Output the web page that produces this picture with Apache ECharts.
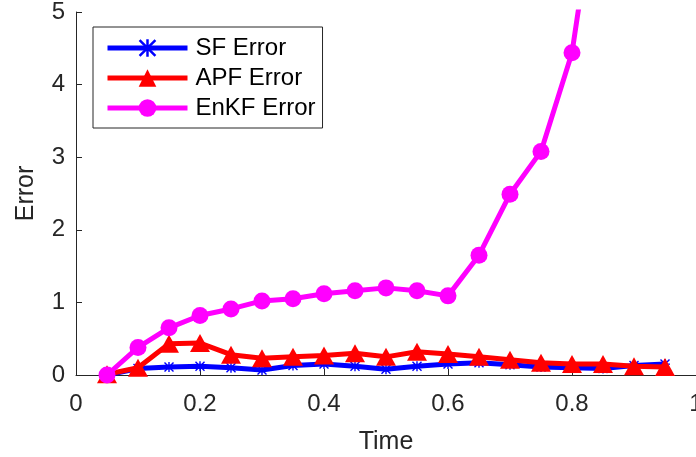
<!DOCTYPE html>
<html>
<head>
<meta charset="utf-8">
<script src="https://cdn.jsdelivr.net/npm/echarts@6/dist/echarts.min.js"></script>
<style>html,body{margin:0;padding:0;background:#fff;}#c{width:696px;height:457px;}</style>
</head>
<body>
<div id="c"></div>
<script>
const times = [0.05,0.10,0.15,0.20,0.25,0.30,0.35,0.40,0.45,0.50,0.55,0.60,0.65,0.70,0.75,0.80,0.85,0.90,0.95];
const sfError = [0.00,0.09,0.11,0.12,0.10,0.07,0.13,0.15,0.12,0.08,0.12,0.15,0.17,0.14,0.11,0.10,0.09,0.13,0.15];
const apfError = [0.01,0.10,0.43,0.44,0.28,0.23,0.25,0.27,0.30,0.25,0.32,0.29,0.25,0.21,0.17,0.15,0.15,0.12,0.11];
const enkfError = [0.00,0.38,0.65,0.82,0.91,1.02,1.05,1.12,1.16,1.20,1.16,1.09,1.65,2.49,3.08,4.44,7.3,11.0,16.0];
const xTicks = [0, 0.2, 0.4, 0.6, 0.8, 1];
const yTicks = [0, 1, 2, 3, 4, 5];

const pair = (ys) => times.map((t, i) => [t, ys[i]]);
const txt = '#262626';
const font = "'Liberation Sans', Arial, Helvetica, sans-serif";
const asterisk = 'path://M4.3,0 L5.7,0 L5.7,10 L4.3,10 Z M0,4.3 L10,4.3 L10,5.7 L0,5.7 Z M1.0,0.0 L10,9.0 L9.0,10 L0,1.0 Z M9.0,0 L10,1.0 L1.0,10 L0,9.0 Z';

const chart = echarts.init(document.getElementById('c'), null, {renderer: 'canvas'});
chart.setOption({
  animation: false,
  backgroundColor: '#fff',
  grid: {left: 76, right: 0, top: 12, bottom: 82, containLabel: false, outerBoundsMode: 'none'},
  xAxis: {
    type: 'value', min: xTicks[0], max: xTicks[xTicks.length - 1], interval: 0.2,
    name: 'Time', nameLocation: 'middle', nameGap: 55,
    nameTextStyle: {color: txt, fontSize: 25, fontFamily: font},
    axisLine: {show: true, onZero: false, lineStyle: {color: txt, width: 1}},
    axisTick: {show: true, inside: true, length: 6, lineStyle: {color: txt}},
    axisLabel: {color: txt, fontSize: 24, fontFamily: font, margin: 17, hideOverlap: false,
      formatter: v => (xTicks.includes(+v.toFixed(1)) ? String(+v.toFixed(1)) : '')},
    splitLine: {show: false}
  },
  yAxis: {
    type: 'value', min: yTicks[0], max: yTicks[yTicks.length - 1], interval: 1,
    name: 'Error', nameLocation: 'middle', nameGap: 37, nameRotate: 90,
    nameTextStyle: {color: txt, fontSize: 25, fontFamily: font},
    axisLine: {show: true, lineStyle: {color: txt, width: 1}},
    axisTick: {show: true, inside: true, length: 6, lineStyle: {color: txt}},
    axisLabel: {color: txt, fontSize: 24, fontFamily: font, margin: 11},
    splitLine: {show: false}
  },
  legend: {
    left: 93, top: 27, orient: 'vertical',
    itemWidth: 80, itemHeight: 22, itemGap: 6,
    padding: [9, 7, 8, 12],
    borderColor: txt, borderWidth: 1, backgroundColor: '#fff',
    lineStyle: {width: 5},
    textStyle: {color: '#000', fontSize: 24, fontFamily: font, padding: [0, 0, 0, 3]},
    data: ['SF Error', 'APF Error', 'EnKF Error']
  },
  series: [
    {name: 'SF Error', type: 'line', data: pair(sfError), clip: true, z: 2,
     symbol: asterisk, symbolSize: 10, showAllSymbol: true,
     lineStyle: {color: '#0000ff', width: 5}, itemStyle: {color: '#0000ff'}},
    {name: 'APF Error', type: 'line', data: pair(apfError), clip: true, z: 3,
     symbol: 'triangle', symbolSize: [20, 18], showAllSymbol: true,
     lineStyle: {color: '#ff0000', width: 5}, itemStyle: {color: '#ff0000'}},
    {name: 'EnKF Error', type: 'line', data: pair(enkfError), clip: true, z: 4,
     symbol: 'circle', symbolSize: 17, showAllSymbol: true,
     lineStyle: {color: '#ff00ff', width: 5}, itemStyle: {color: '#ff00ff'}}
  ]
});
</script>
</body>
</html>
